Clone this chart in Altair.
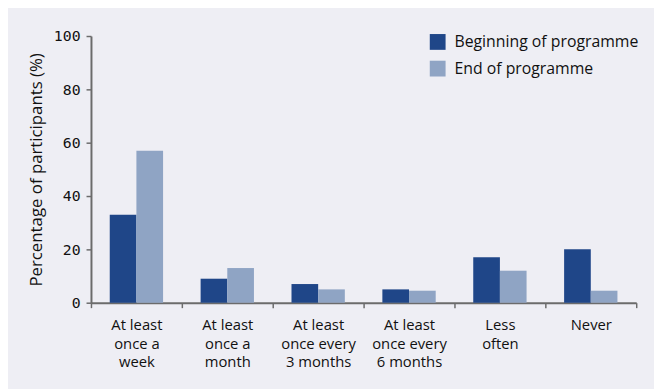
import altair as alt
import pandas as pd

categories = ["At least|once a|week", "At least|once a|month", "At least|once every|3 months",
              "At least|once every|6 months", "Less|often", "Never"]
series = ["Beginning of programme", "End of programme"]
beginning = [33, 9, 7, 5, 17, 20]
end = [57, 13, 5, 4.5, 12, 4.5]
y_ticks = [0, 20, 40, 60, 80, 100]
colors = ["#1f4688", "#8fa4c4"]

rows = []
for c, b, e in zip(categories, beginning, end):
    rows.append({"cat": c, "series": series[0], "value": b})
    rows.append({"cat": c, "series": series[1], "value": e})
df = pd.DataFrame(rows)

label_font = "Open Sans"
axis_color = "#6b6b6b"

chart = alt.Chart(df).mark_bar().encode(
    x=alt.X("cat:N", sort=categories,
            scale=alt.Scale(paddingInner=0, paddingOuter=0),
            axis=alt.Axis(title=None, labelAngle=0, tickBand="extent",
                          labelExpr="split(datum.label, '|')",
                          labelFont=label_font, labelFontSize=15, labelColor="#111111",
                          labelLineHeight=19, labelPadding=10, labelBaseline="top",
                          domainColor=axis_color, domainWidth=2, tickColor=axis_color,
                          tickWidth=1.5, tickSize=5)),
    xOffset=alt.XOffset("series:N", sort=series,
                        scale=alt.Scale(paddingInner=0, paddingOuter=0.704)),
    y=alt.Y("value:Q", scale=alt.Scale(domain=[0, 100], nice=False),
            axis=alt.Axis(title="Percentage of participants (%)", values=y_ticks, grid=False,
                          labelFont="DejaVu Sans Mono", labelFontSize=15, labelColor="#111111",
                          labelPadding=6, tickSize=5, tickColor=axis_color, tickWidth=1.5,
                          domainColor=axis_color, domainWidth=2,
                          titleFont=label_font, titleFontSize=17, titleFontWeight="normal",
                          titleColor="#111111", titleAngle=-90, titleX=-55, titleY=135,
                          titleAlign="center", titleBaseline="middle")),
    color=alt.Color("series:N", sort=series,
                    scale=alt.Scale(domain=series, range=colors),
                    legend=alt.Legend(title=None, orient="none", legendX=343, legendY=-2,
                                      symbolType="square", symbolSize=256, symbolStrokeWidth=0,
                                      symbolOpacity=1, labelLimit=0,
                                      labelFont="Open Sans", labelFontSize=16, labelColor="#111111",
                                      labelOffset=9, rowPadding=11)),
).properties(
    width=552, height=270,
    autosize=alt.AutoSizeParams(type="none"),
    padding={"left": 84, "top": 26, "right": 18, "bottom": 85},
    background="#eeeef4",
).configure_view(stroke=None)

chart.save("out.html", embed_options={"renderer": "svg", "actions": False})
